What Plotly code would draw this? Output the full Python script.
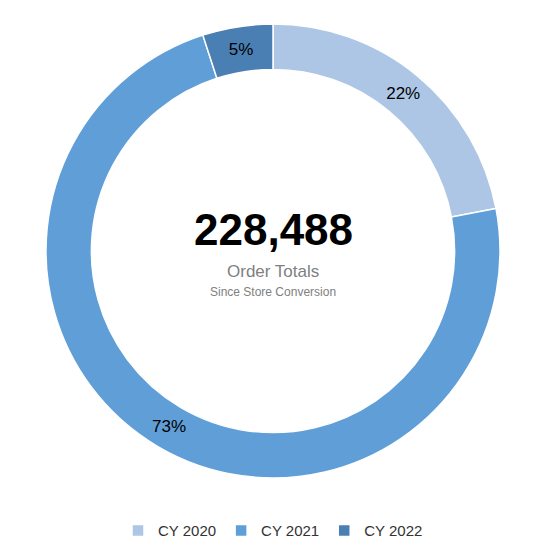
import plotly.graph_objects as go

# Order totals by calendar year
years = ["CY 2020", "CY 2021", "CY 2022"]
orders = [50267, 166796, 11425]
colors = ["#aec6e6", "#5f9ed6", "#4a7fb3"]

total = sum(orders)

fig = go.Figure(go.Pie(
    labels=years,
    values=orders,
    hole=0.8,
    sort=False,
    direction="clockwise",
    rotation=0,
    marker=dict(colors=colors, line=dict(color="white", width=1.5)),
    textinfo="percent",
    textposition="inside",
    insidetextorientation="horizontal",
    textfont=dict(color="black", size=17),
    hoverinfo="label+value+percent",
))

fig.add_annotation(text=f"<b>{total:,}</b>", x=0.5, y=0.548, xref="paper", yref="paper",
                   showarrow=False, font=dict(size=44, color="black"))
fig.add_annotation(text="Order Totals", x=0.5, y=0.455, xref="paper", yref="paper",
                   showarrow=False, font=dict(size=17, color="#808080"))
fig.add_annotation(text="Since Store Conversion", x=0.5, y=0.41, xref="paper", yref="paper",
                   showarrow=False, font=dict(size=12, color="#808080"))

fig.update_layout(
    width=550, height=557,
    margin=dict(t=16, b=87, l=10, r=30),
    font=dict(family="Liberation Sans, Arial, sans-serif"),
    paper_bgcolor="white",
    legend=dict(orientation="h", x=0.5, xanchor="center", y=-0.08, yanchor="top",
                font=dict(size=15, color="#333"), itemwidth=30),
)

fig.write_html("out.html")
